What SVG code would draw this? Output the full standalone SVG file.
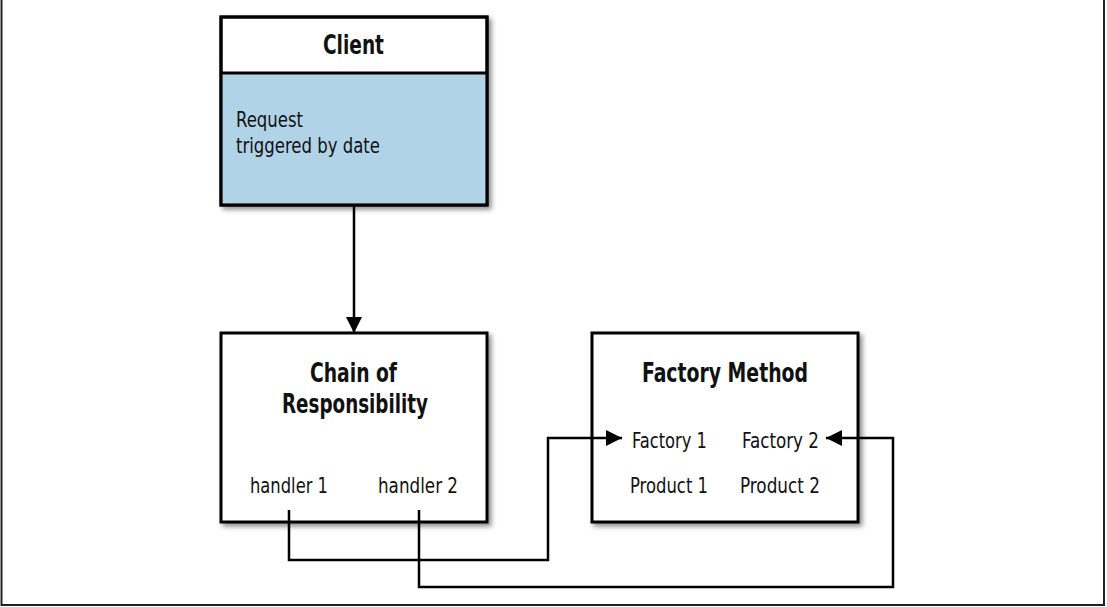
<svg xmlns="http://www.w3.org/2000/svg" width="1107" height="607" viewBox="0 0 1107 607">
<defs>
<filter id="sh" x="-10%" y="-10%" width="130%" height="130%">
<feGaussianBlur in="SourceAlpha" stdDeviation="2.5"/>
<feOffset dx="3" dy="3" result="b"/>
<feComponentTransfer><feFuncA type="linear" slope="0.45"/></feComponentTransfer>
<feMerge><feMergeNode/><feMergeNode in="SourceGraphic"/></feMerge>
</filter>
<marker id="ah" viewBox="0 0 16 16" refX="16" refY="8" markerWidth="16" markerHeight="16" markerUnits="userSpaceOnUse" orient="auto">
<path d="M0,0 L16,8 L0,16 Z" fill="#000"/>
</marker>
<style>
.box{fill:#fff;stroke:#000;stroke-width:3}
.t{font-family:"DejaVu Sans Condensed","Liberation Sans",sans-serif;font-size:22px;fill:#111}
.b{font-weight:bold;font-size:26px}
.c{fill:none;stroke:#000;stroke-width:2.5}
</style>
</defs>
<rect width="1107" height="607" fill="#fff"/>
<path d="M1.5,0 V605 H1104 V0" fill="none" stroke="#222" stroke-width="2"/>
<g id="client">
<rect class="box" x="221" y="17" width="266" height="188" filter="url(#sh)"/>
<rect x="222.5" y="73" width="263" height="130.5" fill="#b0d3e8"/>
<line x1="221" y1="73" x2="487" y2="73" stroke="#000" stroke-width="3"/>
<rect x="221" y="17" width="266" height="188" fill="none" stroke="#000" stroke-width="3"/>
<text class="t b" x="323" y="54" textLength="61" lengthAdjust="spacingAndGlyphs">Client</text>
<text class="t" x="236" y="127" textLength="67" lengthAdjust="spacingAndGlyphs">Request</text>
<text class="t" x="236" y="153" textLength="144" lengthAdjust="spacingAndGlyphs">triggered by date</text>
</g>
<g id="chain">
<rect class="box" x="221" y="333" width="266" height="189" filter="url(#sh)"/>
<text class="t b" x="310" y="382" textLength="87" lengthAdjust="spacingAndGlyphs">Chain of</text>
<text class="t b" x="282" y="413" textLength="146" lengthAdjust="spacingAndGlyphs">Responsibility</text>
<text class="t" x="250" y="493" textLength="78" lengthAdjust="spacingAndGlyphs">handler 1</text>
<text class="t" x="378" y="493" textLength="80" lengthAdjust="spacingAndGlyphs">handler 2</text>
</g>
<g id="factory">
<rect class="box" x="592" y="333" width="266" height="189" filter="url(#sh)"/>
<text class="t b" x="642" y="382" textLength="166" lengthAdjust="spacingAndGlyphs">Factory Method</text>
<text class="t" x="632" y="448" textLength="75" lengthAdjust="spacingAndGlyphs">Factory 1</text>
<text class="t" x="742" y="448" textLength="77" lengthAdjust="spacingAndGlyphs">Factory 2</text>
<text class="t" x="630" y="493" textLength="78" lengthAdjust="spacingAndGlyphs">Product 1</text>
<text class="t" x="740" y="493" textLength="80" lengthAdjust="spacingAndGlyphs">Product 2</text>
</g>
<g id="connectors">
<path class="c" d="M354,205 V333" marker-end="url(#ah)"/>
<path class="c" d="M289,510 V560 H548 V438 H622" marker-end="url(#ah)"/>
<path class="c" d="M419,510 V587 H893 V438 H826" marker-end="url(#ah)"/>
</g>
</svg>
